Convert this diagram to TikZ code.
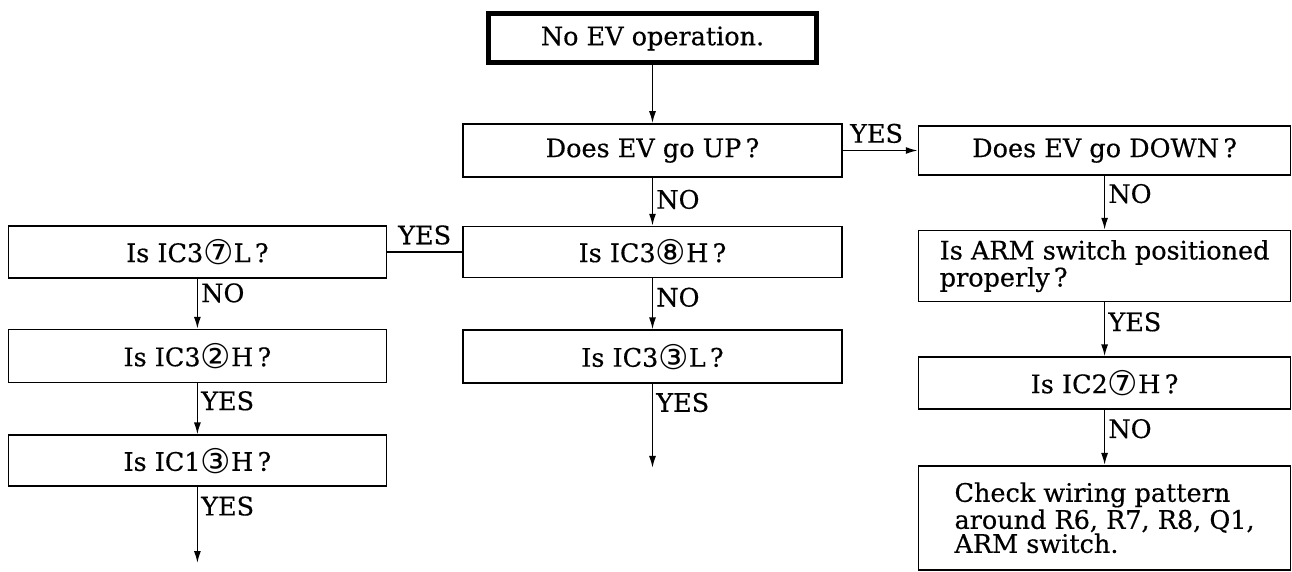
\documentclass[tikz,border=0pt]{standalone}
\usepackage{fontspec}
\setmainfont{DejaVu Serif}[FakeBold=0.4]
\newfontfamily\circfont{DejaVu Sans}
\usetikzlibrary{positioning,arrows.meta}
\newcommand{\pin}[1]{\raisebox{-1.2pt}{\circfont\fontsize{17}{17}\selectfont #1}}

\begin{document}
\begin{tikzpicture}[x=0.5pt, y=-0.5pt, font=\fontsize{12.75}{13.5}\selectfont,
  box/.style={draw, line width=0.8pt, inner sep=0pt, minimum width=#1},
  box/.default=189.5pt,
  arr/.style={line width=0.8pt, -{Latex[length=6pt, width=3.5pt]}},
  line/.style={line width=0.8pt},
  lbl/.style={right, inner sep=1.5pt}]
\useasboundingbox (0,0) rectangle (1292,572);
% middle column
\node[box=164pt, line width=2.5pt, minimum height=24.5pt] (start) at (652.5,38.5) {No EV operation.};
\node[box, minimum height=26.5pt] (up) at (652.5,150.5) {Does EV go UP\,?};
\node[box, minimum height=25.5pt, below=24pt of up] (ic38) {Is IC3\pin{⑧}H\,?};
\node[box, minimum height=26.5pt, below=25.5pt of ic38] (ic33) {Is IC3\pin{③}L\,?};
\coordinate[below=42pt of ic33] (endm);
% left column
\node[box=189pt, minimum height=26pt, left=37.5pt of ic38] (ic37) {Is IC3\pin{⑦}L\,?};
\node[box=189pt, minimum height=26.5pt, below=25pt of ic37] (ic32) {Is IC3\pin{②}H\,?};
\node[box=189pt, minimum height=25.5pt, below=25.5pt of ic32] (ic13) {Is IC1\pin{③}H\,?};
\coordinate[below=38pt of ic13] (endl);
% right column
\node[box=186pt, minimum height=24.5pt, right=37.5pt of up] (down) {Does EV go DOWN\,?};
\node[box=186pt, minimum height=35.5pt, below=27pt of down, align=left] (arm) {Is ARM switch positioned\\properly\,?};
\node[box=186pt, minimum height=26pt, below=27pt of arm] (ic27) {Is IC2\pin{⑦}H\,?};
\node[box=186pt, minimum height=52pt, below=27.5pt of ic27, align=left,
  font=\fontsize{12.75}{12}\selectfont] (check) {Check wiring pattern\\around R6, R7, R8, Q1,\\ARM switch.};
% connectors
\draw[arr] (start) -- (up);
\draw[arr] (up) -- node[above, pos=0.45]{YES} (down);
\draw[arr] (up) -- node[lbl, pos=0.45]{NO} (ic38);
\draw[line] (ic38) -- node[above]{YES} (ic37);
\draw[arr] (ic38) -- node[lbl, pos=0.37]{NO} (ic33);
\draw[arr] (ic33) -- node[lbl, pos=0.22]{YES} (endm);
\draw[arr] (ic37) -- node[lbl, pos=0.28]{NO} (ic32);
\draw[arr] (ic32) -- node[lbl, pos=0.34]{YES} (ic13);
\draw[arr] (ic13) -- node[lbl, pos=0.25]{YES} (endl);
\draw[arr] (down) -- node[lbl, pos=0.33]{NO} (arm);
\draw[arr] (arm) -- node[lbl, pos=0.36]{YES} (ic27);
\draw[arr] (ic27) -- node[lbl, pos=0.34]{NO} (check);
\end{tikzpicture}
\end{document}
